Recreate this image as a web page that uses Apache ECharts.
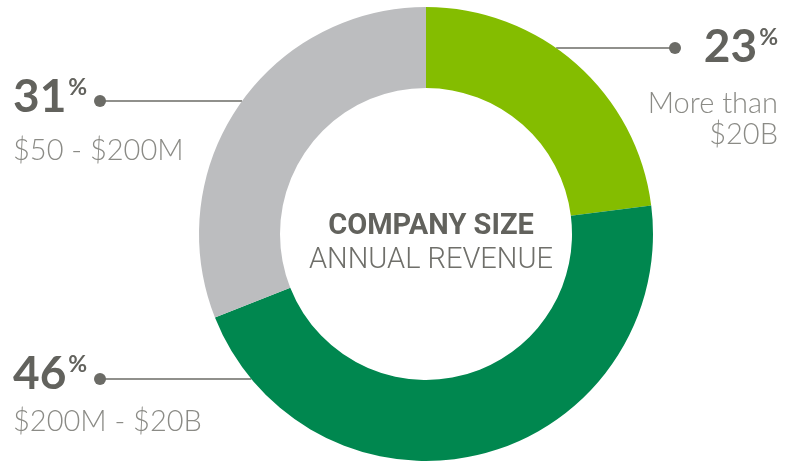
<!DOCTYPE html>
<html>
<head>
<meta charset="utf-8">
<script src="https://cdn.jsdelivr.net/npm/echarts@6/dist/echarts.min.js"></script>
<style>
  html, body { margin: 0; padding: 0; background: #fff; }
  #chart { width: 785px; height: 463px; }
</style>
</head>
<body>
<div id="chart"></div>
<script>
// company size by annual revenue, clockwise from 12 o'clock
var categories = ['More than\n$20B', '$200M - $20B', '$50 - $200M']
var values = [23, 46, 31]
var colors = ['#84bd00', '#00874f', '#bcbdbf']

// layout of the donut + leader lines
var CX = 426, CY = 234, R_IN = 146, R_OUT = 227
var lineY = [48, 379, 101]
var dotX = [675, 100, 100]
var side = [1, -1, -1]

var numColor = '#62625d'
var descColor = '#8b8b86'
var lineColor = '#6b6b66'

function arcX(i) {
  var dy = lineY[i] - CY
  return CX + side[i] * Math.sqrt(R_OUT * R_OUT - dy * dy)
}

function labelFor(i) {
  var right = side[i] > 0
  var descLines = categories[i].split('\n').map(function (t) { return '{desc|' + t + '}' }).join('\n')
  var lh = [[81, 31], [50, 46], [50, 58]][i]
  var a = right ? 'right' : 'left'
  return {
    formatter: '{num|' + values[i] + '}{pct|%}\n' + descLines,
    rich: {
      num: { fontFamily: 'Lato', fontWeight: 'bold', fontSize: 46, color: numColor, lineHeight: lh[0], align: a },
      pct: { fontFamily: 'Lato', fontWeight: 'bold', fontSize: 23, color: numColor, lineHeight: lh[0], verticalAlign: 'top', padding: [i === 0 ? 19 : 4, 0, 0, 2], align: a },
      desc: { fontFamily: 'Lato', fontWeight: 300, fontSize: 29, color: descColor, lineHeight: lh[1], align: a }
    }
  }
}

var labelTop = [7, 349, 72]
var labelX = [778, 13, 13]

var myChart = echarts.init(document.getElementById('chart'))

var option = {
  animation: false,
  backgroundColor: '#fff',
  title: {
    text: 'COMPANY SIZE',
    subtext: 'ANNUAL REVENUE',
    left: CX,
    top: 207,
    textAlign: 'center',
    itemGap: 5,
    textStyle: { fontFamily: 'Roboto', fontWeight: 'bold', fontSize: 29, color: numColor },
    subtextStyle: { fontFamily: 'Roboto', fontWeight: 300, fontSize: 29, color: '#6f6f6a' }
  },
  graphic: dotX.map(function (x, i) {
    return { type: 'circle', shape: { cx: x, cy: lineY[i], r: 6 }, style: { fill: lineColor }, z: 10 }
  }),
  series: [{
    type: 'pie',
    center: [CX, CY],
    radius: [R_IN, R_OUT],
    startAngle: 90,
    clockwise: true,
    silent: true,
    label: { show: true, position: 'outside' },
    labelLine: { show: true, lineStyle: { color: lineColor, width: 1.5 } },
    labelLayout: function (params) {
      var i = params.dataIndex
      return {
        x: labelX[i],
        y: labelTop[i],
        align: side[i] > 0 ? 'right' : 'left',
        verticalAlign: 'top',
        labelLinePoints: [[arcX(i), lineY[i]], [arcX(i), lineY[i]], [dotX[i], lineY[i]]]
      }
    },
    data: values.map(function (v, i) {
      return { value: v, name: categories[i], itemStyle: { color: colors[i] }, label: labelFor(i) }
    })
  }]
}

myChart.setOption(option)
</script>
</body>
</html>
